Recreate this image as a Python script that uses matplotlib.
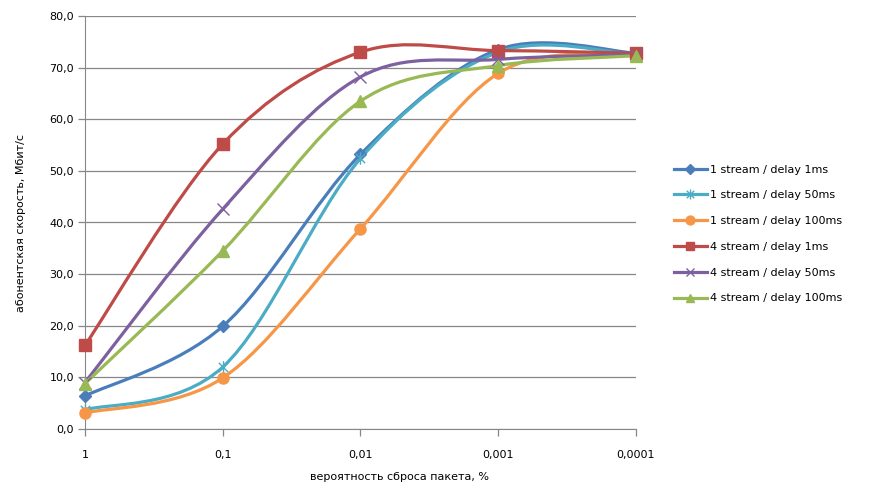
import numpy as np
import matplotlib
matplotlib.use("Agg")
import matplotlib.pyplot as plt
from matplotlib.path import Path
from matplotlib.patches import PathPatch
from matplotlib.lines import Line2D

plt.rc("font", family="DejaVu Sans")
plt.rc("font", size=8)

# data
categories = ["1", "0,1", "0,01", "0,001", "0,0001"]
s1_1ms = [6.4, 19.9, 53.2, 73.5, 72.8]
s1_50ms = [3.7, 12.0, 52.4, 73.0, 72.5]
s1_100ms = [3.1, 9.9, 38.8, 68.9, 72.5]
s4_1ms = [16.2, 55.2, 73.0, 73.3, 72.8]
s4_50ms = [9.0, 42.6, 68.2, 71.6, 72.5]
s4_100ms = [8.8, 34.5, 63.5, 70.4, 72.3]
names = ["1 stream / delay 1ms", "1 stream / delay 50ms", "1 stream / delay 100ms",
         "4 stream / delay 1ms", "4 stream / delay 50ms", "4 stream / delay 100ms"]
yticks = [0, 10, 20, 30, 40, 50, 60, 70, 80]
ytick_labels = ["0,0", "10,0", "20,0", "30,0", "40,0", "50,0", "60,0", "70,0", "80,0"]

# excel-like star marker: vertical bar plus an x
star = Path([(0, -1), (0, 1), (-0.75, -0.75), (0.75, 0.75), (-0.75, 0.75), (0.75, -0.75)],
            [Path.MOVETO, Path.LINETO, Path.MOVETO, Path.LINETO, Path.MOVETO, Path.LINETO])

styles = [
    dict(color="#4A7EBB", marker="D", ms=6, mfc="#4A7EBB", mec="#4A7EBB", mew=1),
    dict(color="#4BACC6", marker=star, ms=9, mfc="none", mec="#4BACC6", mew=1),
    dict(color="#F79646", marker="o", ms=8, mfc="#F79646", mec="#F79646", mew=1),
    dict(color="#BE4B48", marker="s", ms=8, mfc="#BE4B48", mec="#BE4B48", mew=1),
    dict(color="#7D60A0", marker="x", ms=8, mfc="none", mec="#7D60A0", mew=1),
    dict(color="#98B954", marker="^", ms=8, mfc="#98B954", mec="#98B954", mew=1),
]


def smooth_path(x, y):
    # bezier segments like excel's smoothed line
    pts = np.column_stack([x, y]).astype(float)
    n = len(pts)
    verts = [pts[0]]
    codes = [Path.MOVETO]
    for i in range(n - 1):
        p_prev = pts[max(i - 1, 0)]
        p_next2 = pts[min(i + 2, n - 1)]
        c1 = pts[i] + (pts[i + 1] - p_prev) / 6.0
        c2 = pts[i + 1] - (p_next2 - pts[i]) / 6.0
        verts += [c1, c2, pts[i + 1]]
        codes += [Path.CURVE4] * 3
    return Path(verts, codes)


fig = plt.figure(figsize=(8.7, 4.97), dpi=100)
ax = fig.add_axes([85 / 870, 1 - 429 / 497, (636 - 85) / 870, (429 - 16) / 497])

xs = np.arange(len(categories))
series = [s1_1ms, s1_50ms, s1_100ms, s4_1ms, s4_50ms, s4_100ms]
handles = []
for vals, st, name in zip(series, styles, names):
    patch = PathPatch(smooth_path(xs, vals), facecolor="none", edgecolor=st["color"],
                      lw=2.3, capstyle="round", joinstyle="round", zorder=3)
    ax.add_patch(patch)
    ax.plot(xs, vals, linestyle="none", marker=st["marker"], ms=st["ms"],
            mfc=st["mfc"], mec=st["mec"], mew=st["mew"], zorder=4, clip_on=False)
    handles.append(Line2D([], [], color=st["color"], lw=2.3, marker=st["marker"],
                          ms=st["ms"] * 0.8, mfc=st["mfc"], mec=st["mec"], mew=st["mew"]))

ax.set_xlim(0, 4)
ax.set_ylim(0, 80)
ax.set_xticks(xs)
ax.set_xticklabels(categories)
ax.set_yticks(yticks)
ax.set_yticklabels(ytick_labels)
ax.grid(axis="y", color="#878787", lw=0.9)
ax.set_axisbelow(True)
for side in ["top", "right"]:
    ax.spines[side].set_visible(False)
for side in ["left", "bottom"]:
    ax.spines[side].set_color("#878787")
ax.tick_params(axis="x", colors="#878787", length=5, width=0.9, labelcolor="black", pad=10)
ax.tick_params(axis="y", colors="#878787", length=5, width=0.9, labelcolor="black", pad=3)

ax.set_ylabel("абонентская скорость, Мбит/с", labelpad=17)
fig.text(400 / 870, 1 - 477 / 497, "вероятность сброса пакета, %", ha="center", va="center")

fig.legend(handles, names, loc="upper left", bbox_to_anchor=(668 / 870, 1 - 159 / 497),
           frameon=False, handlelength=3.0, handletextpad=0.3, labelspacing=1.42,
           borderpad=0)

fig.savefig("out.png", dpi=100)
